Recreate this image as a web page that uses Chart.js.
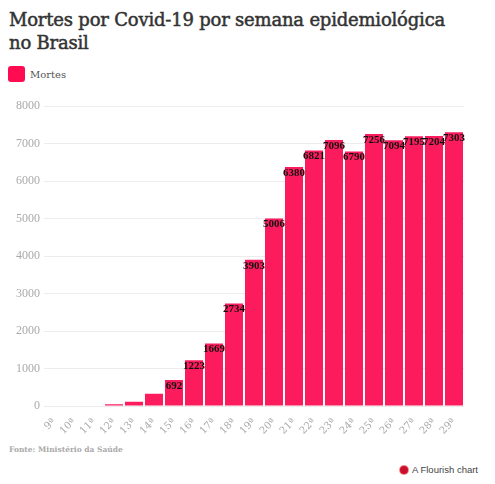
<!DOCTYPE html>
<html>
<head>
<meta charset="utf-8">
<script src="https://cdn.jsdelivr.net/npm/chart.js@4"></script>
<style>
  body { margin: 0; background: #fff; width: 495px; height: 484px; position: relative; overflow: hidden; }
  h1 { position: absolute; left: 9px; top: 8px; margin: 0; font: 18px/23px "DejaVu Serif", serif; color: #333; letter-spacing: -0.2px; -webkit-text-stroke: 0.5px #333; }
  .legend { position: absolute; left: 8px; top: 66px; display: flex; align-items: center; font: 10px "DejaVu Serif", serif; color: #555; }
  .legend span { display: inline-block; width: 17px; height: 16px; border-radius: 3px; background: #ff0b52; margin-right: 5px; }
  #wrap { position: absolute; left: 0; top: 95px; width: 495px; height: 340px; }
  .source { position: absolute; left: 9px; top: 445px; font: bold 7.5px "DejaVu Serif", serif; color: #aaa; }
  .credit { position: absolute; left: 400px; top: 464px; font: 9.5px "Liberation Sans", sans-serif; color: #444; display: flex; align-items: center; }
  .credit i { display: inline-block; width: 8px; height: 8px; border-radius: 50%; background: #c8102e; box-shadow: 0 0 0 1px #f28b8b; margin-right: 4px; }
</style>
</head>
<body>
<h1>Mortes por Covid-19 por semana epidemiológica<br>no Brasil</h1>
<div class="legend"><span></span>Mortes</div>
<div id="wrap"><canvas id="chart"></canvas></div>
<div class="source">Fonte: Ministério da Saúde</div>
<div class="credit"><i></i>A Flourish chart</div>
<script>
// semanas epidemiológicas
const weeks = ["9ª", "10ª", "11ª", "12ª", "13ª", "14ª", "15ª", "16ª", "17ª", "18ª", "19ª",
  "20ª", "21ª", "22ª", "23ª", "24ª", "25ª", "26ª", "27ª", "28ª", "29ª"];
const deaths = [0, 0, 0, 45, 115, 330, 692, 1223, 1669, 2734, 3903,
  5006, 6380, 6821, 7096, 6790, 7256, 7094, 7195, 7204, 7303];
const yTicks = [0, 1000, 2000, 3000, 4000, 5000, 6000, 7000, 8000];

// value labels sitting on the top edge of each bar
const barLabels = {
  id: 'barLabels',
  afterDatasetsDraw(chart) {
    const ctx = chart.ctx;
    const meta = chart.getDatasetMeta(0);
    ctx.save();
    ctx.font = 'bold 11px "Liberation Serif", serif';
    ctx.fillStyle = '#111';
    ctx.textAlign = 'center';
    ctx.textBaseline = 'middle';
    meta.data.forEach((bar, i) => {
      if (deaths[i] < 500) return;
      ctx.fillText(deaths[i], bar.x, bar.y + 6);
    });
    ctx.restore();
  }
};

new Chart(document.getElementById('chart'), {
  type: 'bar',
  data: {
    labels: weeks,
    datasets: [{
      label: 'Mortes',
      data: deaths,
      backgroundColor: '#fc1c5e',
      categoryPercentage: 1,
      barPercentage: 0.9
    }]
  },
  options: {
    responsive: true,
    maintainAspectRatio: false,
    animation: false,
    layout: { padding: { top: 10, right: 31, left: 0, bottom: 0 } },
    plugins: { legend: { display: false }, tooltip: { enabled: false } },
    scales: {
      x: {
        grid: { display: false },
        border: { display: false },
        ticks: {
          color: '#aaa',
          font: { family: '"DejaVu Serif", serif', size: 10 },
          autoSkip: false,
          minRotation: 45,
          maxRotation: 45,
          padding: 2
        },
        afterFit: s => { s.height = 29; }
      },
      y: {
        min: 0,
        max: 8000,
        afterBuildTicks: s => { s.ticks = yTicks.map(v => ({ value: v })); },
        grid: { color: '#ececec', drawTicks: false },
        border: { display: false },
        ticks: {
          color: '#aaa',
          font: { family: '"Liberation Serif", serif', size: 12 },
          padding: 4,
          callback: v => String(v)
        },
        afterFit: s => { s.width = 44; }
      }
    }
  },
  plugins: [barLabels]
});
</script>
</body>
</html>
